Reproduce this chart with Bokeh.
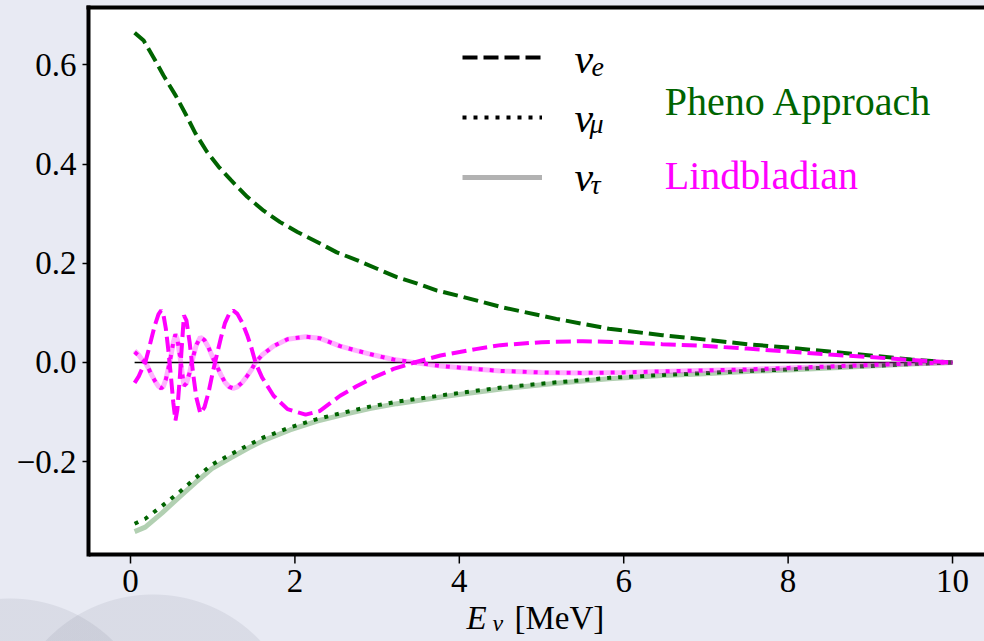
from bokeh.plotting import figure
from bokeh.core.properties import value
from bokeh.models import (ColumnDataSource, Range1d, FixedTicker, CustomJSTickFormatter,
                          LinearAxis, Label, Legend, LegendItem, GlobalInlineStyleSheet,
                          BoxAnnotation, Span)
from bokeh.embed import file_html
from bokeh.resources import INLINE

# ---------------- data ----------------
pheno_x_e = [0.05, 0.16, 0.28, 0.40, 0.55, 0.67, 0.79, 0.93, 1.07, 1.22, 1.42, 1.62, 1.82,
             2.03, 2.27, 2.51, 2.76, 3.00, 3.24, 3.49, 3.73, 4.05, 4.53, 5.18, 5.82, 6.47,
             7.0, 7.5, 8.0, 8.5, 9.0, 9.5, 10.0]
pheno_nu_e = [0.665, 0.649, 0.615, 0.579, 0.538, 0.501, 0.462, 0.425, 0.395, 0.368, 0.334,
              0.306, 0.283, 0.263, 0.243, 0.222, 0.206, 0.189, 0.172, 0.159, 0.145, 0.132,
              0.111, 0.088, 0.068, 0.055, 0.046, 0.037, 0.030, 0.022, 0.014, 0.006, 0.0]

pheno_x_mt = [0.05, 0.18, 0.385, 0.59, 0.79, 0.99, 1.22, 1.44, 1.62, 1.94, 2.27, 2.59, 2.91,
              3.24, 3.88, 4.53, 5.18, 5.82, 6.47, 6.93, 7.5, 8.0, 8.5, 9.0, 9.5, 10.0]
pheno_nu_mu = [-0.325, -0.315, -0.289, -0.262, -0.233, -0.206, -0.185, -0.166, -0.151, -0.131,
               -0.114, -0.101, -0.089, -0.079, -0.064, -0.050, -0.040, -0.031, -0.025, -0.022,
               -0.017, -0.014, -0.010, -0.007, -0.003, 0.0]
pheno_nu_tau = [-0.341, -0.332, -0.303, -0.272, -0.242, -0.214, -0.192, -0.172, -0.157, -0.136,
                -0.118, -0.105, -0.093, -0.083, -0.067, -0.053, -0.042, -0.033, -0.026, -0.023,
                -0.018, -0.015, -0.011, -0.007, -0.003, 0.0]

lind_x = [0.05, 0.10, 0.14, 0.18, 0.22, 0.26, 0.30, 0.34, 0.373, 0.40,
          0.43, 0.46, 0.49, 0.52, 0.547, 0.57, 0.60, 0.625, 0.65, 0.68,
          0.72, 0.76, 0.80, 0.85, 0.90, 0.95, 1.00, 1.05, 1.10, 1.15,
          1.20, 1.25, 1.30, 1.36, 1.42, 1.47, 1.52, 1.60, 1.74, 1.91,
          2.13, 2.30, 2.55, 2.75, 2.96, 3.20, 3.45, 3.77, 4.20, 4.50,
          5.00, 5.50, 6.00, 6.47, 6.93, 7.50, 8.00, 8.50, 9.00, 9.50, 10.0]
lind_nu_e = [-0.041, -0.028, -0.013, 0.0, 0.025, 0.052, 0.077, 0.097, 0.105, 0.097,
             0.068, 0.025, -0.025, -0.080, -0.117, -0.095, -0.030, 0.035, 0.095, 0.085,
             0.040, -0.020, -0.070, -0.103, -0.090, -0.060, -0.020, 0.015, 0.050, 0.080,
             0.098, 0.105, 0.098, 0.080, 0.055, 0.030, 0.0, -0.030, -0.067, -0.094,
             -0.105, -0.098, -0.067, -0.048, -0.030, -0.013, 0.0, 0.014, 0.027, 0.035,
             0.041, 0.043, 0.041, 0.037, 0.034, 0.028, 0.022, 0.016, 0.011, 0.005, 0.0]
lind_nu_mu = [0.021, 0.014, 0.006, 0.0, -0.012, -0.026, -0.038, -0.048, -0.052, -0.048,
              -0.034, -0.012, 0.012, 0.040, 0.057, 0.047, 0.015, -0.017, -0.047, -0.042,
              -0.020, 0.010, 0.035, 0.051, 0.045, 0.030, 0.010, -0.007, -0.025, -0.040,
              -0.049, -0.052, -0.049, -0.040, -0.027, -0.015, 0.0, 0.015, 0.033, 0.047,
              0.052, 0.049, 0.033, 0.024, 0.015, 0.006, 0.0, -0.007, -0.013, -0.017,
              -0.020, -0.021, -0.020, -0.018, -0.016, -0.014, -0.011, -0.008, -0.005, -0.002, 0.0]
lind_nu_tau = [0.024, 0.015, 0.006, 0.0, -0.012, -0.026, -0.038, -0.048, -0.052, -0.048,
               -0.034, -0.012, 0.012, 0.040, 0.056, 0.046, 0.015, -0.017, -0.046, -0.042,
               -0.020, 0.010, 0.035, 0.051, 0.045, 0.030, 0.010, -0.007, -0.025, -0.040,
               -0.049, -0.052, -0.049, -0.040, -0.027, -0.015, 0.0, 0.015, 0.033, 0.047,
               0.052, 0.049, 0.033, 0.024, 0.015, 0.006, 0.0, -0.007, -0.013, -0.017,
               -0.020, -0.021, -0.020, -0.018, -0.016, -0.014, -0.011, -0.008, -0.005, -0.002, 0.0]

zero_x = [lind_x[0], lind_x[-1]]
zero_y = [0.0, 0.0]

x_ticks = [0, 2, 4, 6, 8, 10]
x_tick_labels = ["0", "2", "4", "6", "8", "10"]
y_ticks = [-0.2, 0.0, 0.2, 0.4, 0.6]

# ---------------- layout ----------------
W, H = 984, 641
ML, MR, MT, MB = 88, 0, 7, 0
X0, X1 = -0.511, 10.389          # x range of the plot box
Y_BOX = -0.3871                  # lower edge of the white plot box
Y0, Y1 = -0.5625, 0.7157         # frame reaches the canvas bottom so the x-axis texts are not clipped
FW, FH = W - ML - MR, H - MT - MB
BASE_FIX = 13                    # px: measured offset of the rendered text baseline

GREEN = "#006400"
MAGENTA = "#ff00ff"
SERIF = "Liberation Serif"

css = GlobalInlineStyleSheet(css="""
html {
  background-color: #e8eaf3;
  background-image: radial-gradient(circle at 153px 742px, rgba(100,104,125,0.11) 147px, rgba(0,0,0,0) 148px),
                    radial-gradient(circle at 10px 745px, rgba(100,104,125,0.11) 146px, rgba(0,0,0,0) 147px);
  background-attachment: fixed;
  background-repeat: no-repeat;
}
body { background: transparent; }
""")


def px2x(px):
    return X0 + (px - ML) * (X1 - X0) / FW


def py2y(py):
    return Y1 - (py - MT) * (Y1 - Y0) / FH


PX_Y = (Y1 - Y0) / FH            # data units per pixel (vertical)

p = figure(width=W, height=H, output_backend="svg", toolbar_location=None,
           x_range=Range1d(X0, X1), y_range=Range1d(Y0, Y1), x_axis_location=None,
           min_border_left=ML, min_border_right=MR, min_border_top=MT, min_border_bottom=MB)
p.stylesheets = [css]
p.outline_line_color = None
p.border_fill_color = None
p.background_fill_color = None
p.grid.visible = False

# white plot box
p.add_layout(BoxAnnotation(bottom=Y_BOX, fill_color="white", fill_alpha=1.0,
                           line_color=None, level="underlay"))

# y axis (left border of the box)
ax = p.yaxis[0]
ax.bounds = (Y_BOX, Y1)
ax.axis_line_width = 4
ax.axis_line_color = "black"
ax.axis_line_cap = "square"
ax.major_tick_line_width = 1.5
ax.major_tick_line_color = "black"
ax.major_tick_in = 0
ax.major_tick_out = 6
ax.minor_tick_line_color = None
ax.major_label_text_font = SERIF
ax.major_label_text_font_size = "33px"
ax.major_label_text_color = "black"
ax.major_label_standoff = 6
ax.ticker = FixedTicker(ticks=y_ticks)
ax.formatter = CustomJSTickFormatter(
    code="var s = Math.abs(tick).toFixed(1); return tick < -1e-9 ? '\u2212' + s : s;")

# top border
top = LinearAxis(ticker=FixedTicker(ticks=[]), axis_line_width=4, axis_line_color="black",
                 axis_line_cap="square", major_tick_line_color=None, minor_tick_line_color=None,
                 major_label_text_font_size="0px", major_label_standoff=0, axis_label_standoff=0)
p.add_layout(top, "above")

# bottom border, x ticks and x tick labels
p.add_layout(Span(location=Y_BOX, dimension="width", line_color="black", line_width=4))
p.segment(x0=x_ticks, y0=[Y_BOX] * len(x_ticks), x1=x_ticks,
          y1=[Y_BOX - 9 * PX_Y] * len(x_ticks), line_color="black", line_width=1.5)
p.text(x=x_ticks, y=[py2y(593 - BASE_FIX)] * len(x_ticks), text=x_tick_labels,
       text_font=value(SERIF), text_font_size=value("33px"), text_color="black",
       text_align="center", text_baseline="alphabetic")

# ---------------- lines ----------------
p.line(zero_x, zero_y, line_color="black", line_width=1.5)

p.line(pheno_x_mt, pheno_nu_tau, line_color=GREEN, line_alpha=0.3, line_width=5)
p.line(pheno_x_mt, pheno_nu_mu, line_color=GREEN, line_width=4, line_dash="4 7")
p.line(pheno_x_e, pheno_nu_e, line_color=GREEN, line_width=4, line_dash="15 6")

p.line(lind_x, lind_nu_tau, line_color=MAGENTA, line_alpha=0.3, line_width=5)
p.line(lind_x, lind_nu_mu, line_color=MAGENTA, line_width=4, line_dash="4 7")
p.line(lind_x, lind_nu_e, line_color=MAGENTA, line_width=4, line_dash="15 6")

# ---------------- legend (style samples only) ----------------
nan_src = ColumnDataSource(data=dict(x=[float("nan")], y=[float("nan")]))
r_e = p.line("x", "y", source=nan_src, line_color="black", line_width=4, line_dash="15 6")
r_mu = p.line("x", "y", source=nan_src, line_color="black", line_width=4, line_dash="4 7")
r_tau = p.line("x", "y", source=nan_src, line_color="black", line_alpha=0.3, line_width=5)

leg_left, leg_top, leg_h = 462 - ML, 47 - MT, 140
leg = Legend(items=[LegendItem(label="\u2009", renderers=[r_e]),
                    LegendItem(label="\u2009", renderers=[r_mu]),
                    LegendItem(label="\u2009", renderers=[r_tau])],
             location=(leg_left, FH - leg_top - leg_h),
             glyph_width=80, glyph_height=20, spacing=40, padding=0, margin=0,
             label_standoff=0, label_text_font_size="10px", label_height=20, label_width=2,
             border_line_color=None, background_fill_alpha=0)
p.add_layout(leg)


def add_text(text, px, py, size, color="black", style="normal"):
    p.add_layout(Label(x=px2x(px), y=py2y(py - BASE_FIX), text=text, text_font=SERIF,
                       text_font_size=f"{size}px", text_color=color, text_font_style=style,
                       text_align="left", text_baseline="alphabetic"))


# legend symbols
add_text("\u03bd", 574, 71, 42, style="italic")
add_text("e", 591, 79, 28, style="italic")
add_text("\u03bd", 574, 130, 42, style="italic")
add_text("\u03bc", 589, 136, 28, style="italic")
add_text("\u03bd", 574, 189, 42, style="italic")
add_text("\u03c4", 590, 197, 28, style="italic")

# model names (anchored at data x = 6.5, y = 0.5 / 0.35)
p.add_layout(Label(x=6.5, y=0.5 + BASE_FIX * PX_Y, text="Pheno Approach", text_font=SERIF,
                   text_font_size="40px", text_color=GREEN, text_align="left",
                   text_baseline="alphabetic"))
p.add_layout(Label(x=6.5, y=0.35 + BASE_FIX * PX_Y, text="Lindbladian", text_font=SERIF,
                   text_font_size="40px", text_color=MAGENTA, text_align="left",
                   text_baseline="alphabetic"))

# x-axis title
add_text("E", 466, 630, 33, style="italic")
add_text("\u03bd", 492, 635, 24, style="italic")
add_text("[MeV]", 514, 630, 33)

open("out.html", "w").write(file_html(p, INLINE))
